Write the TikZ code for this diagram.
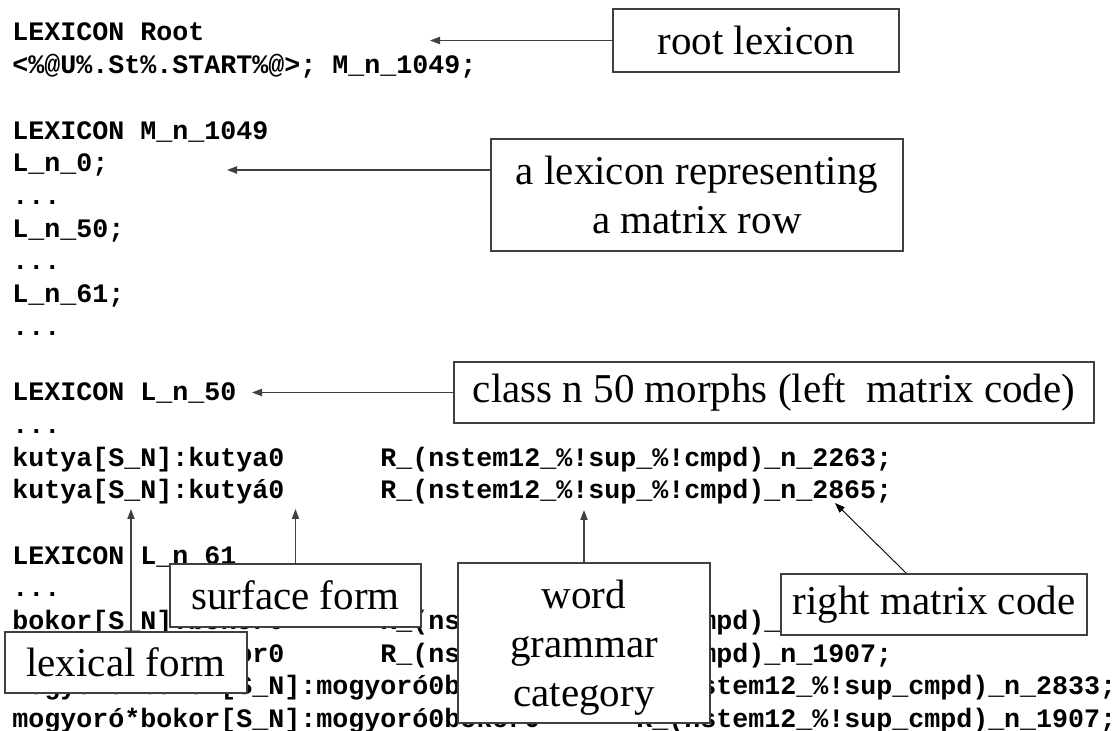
\documentclass[tikz,border=0pt]{standalone}
\usepackage{fontspec}
\setmainfont{Liberation Serif}
\setmonofont{Liberation Mono}
\usetikzlibrary{arrows.meta,calc}
\begin{document}
\begin{tikzpicture}[x=0.5pt,y=-0.5pt,
  code/.style={anchor=base west, inner sep=0pt, font=\fontsize{13.33}{16}\selectfont\ttfamily\bfseries},
  note/.style={draw=black!75, line width=0.7pt, fill=white, inner sep=0pt, align=center,
     font=\fontsize{20.5}{24.5}\selectfont},
  pointer/.style={draw=black!75, line width=0.7pt, -{Triangle[length=5pt,width=3.6pt]}},
  thinpointer/.style={draw=black, line width=0.45pt, -{Triangle[length=5pt,width=3.6pt]}}]
\fill[white] (0,0) rectangle (1115,731);
\useasboundingbox (0,0) rectangle (1115,731);

% code lines
\node[code] (l1)  at (12,41)    {LEXICON Root};
\node[code] (l2)  at (12,73.7)  {<\%@U\%.St\%.START\%@>; M\_n\_1049;};
\node[code] (l4)  at (12,139.1) {LEXICON M\_n\_1049};
\node[code] (l5)  at (12,171.8) {L\_n\_0;};
\node[code] (l6)  at (12,204.5) {...};
\node[code] (l7)  at (12,237.2) {L\_n\_50;};
\node[code] (l8)  at (12,269.9) {...};
\node[code] (l9)  at (12,302.6) {L\_n\_61;};
\node[code] (l10) at (12,335.3) {...};
\node[code] (l12) at (12,400.7) {LEXICON L\_n\_50};
\node[code] (l13) at (12,433.4) {...};
\node[code] (l14) at (12,466.1) {kutya[S\_N]:kutya0~~~~~~R\_(nstem12\_\%!sup\_\%!cmpd)\_n\_2263;};
\node[code] (l15) at (12,498.8) {kutya[S\_N]:kutyá0~~~~~~R\_(nstem12\_\%!sup\_\%!cmpd)\_n\_2865;};
\node[code] (l17) at (12,564.2) {LEXICON L\_n\_61};
\node[code] (l18) at (12,596.9) {...};
\node[code] (l19) at (12,629.6) {bokor[S\_N]:bokor0~~~~~~R\_(nstem12\_\%!sup\_\%!cmpd)\_n\_2833;};
\node[code] (l20) at (12,662.3) {bokor[S\_N]:bokor0~~~~~~R\_(nstem12\_\%!sup\_\%!cmpd)\_n\_1907;};
\node[code] (l21) at (12,695)   {mogyoró*bokor[S\_N]:mogyoró0bokor0~~~~~~R\_(nstem12\_\%!sup\_cmpd)\_n\_2833;};
\node[code] (l22) at (12,727.7) {mogyoró*bokor[S\_N]:mogyoró0bokor0~~~~~~R\_(nstem12\_\%!sup\_cmpd)\_n\_1907;};

% label boxes
\node[note, minimum width=143pt, minimum height=31.5pt] (root) at (756,40.5) {root lexicon};
\node[note, minimum width=206pt, minimum height=56pt] (lexrow) at (697,195) {a lexicon representing\\a matrix row};
\node[note, minimum width=320pt, minimum height=30.5pt] (class) at (774,392.5) {class n 50 morphs (left~ matrix code)};
\node[note, minimum width=125.5pt, minimum height=31.5pt] (surface) at (295.5,595.5) {surface form};
\node[note, minimum width=121pt, minimum height=30.5pt] (lexical) at (126,662.5) {lexical form};
\node[note, minimum width=126pt, minimum height=80pt, text depth=0pt] (word) at (584,643) {word\\grammar\\category};
\node[note, minimum width=153pt, minimum height=30.5pt] (right) at (934,604.5) {right matrix code};

% arrow tips
\coordinate (tRoot) at (430,40.5);
\coordinate (tRow) at (227,170);
\coordinate (tClass) at (252,392.5);
\coordinate (tSurf) at (295.5,509);
\coordinate (tLex) at (131,509);
\coordinate (tWord) at (584,510);
\coordinate (tRight) at (835,503);

\draw[pointer] (root.west) -- (tRoot);
\draw[pointer] (lexrow.west |- tRow) -- (tRow);
\draw[pointer] (class.west) -- (tClass);
\draw[pointer] (surface.north) -- (tSurf);
\draw[pointer] (lexical.north -| tLex) -- (tLex);
\draw[pointer] (word.north) -- (tWord);
\draw[thinpointer] ($(right.north west)!0.41!(right.north east)$) -- (tRight);
\end{tikzpicture}
\end{document}
